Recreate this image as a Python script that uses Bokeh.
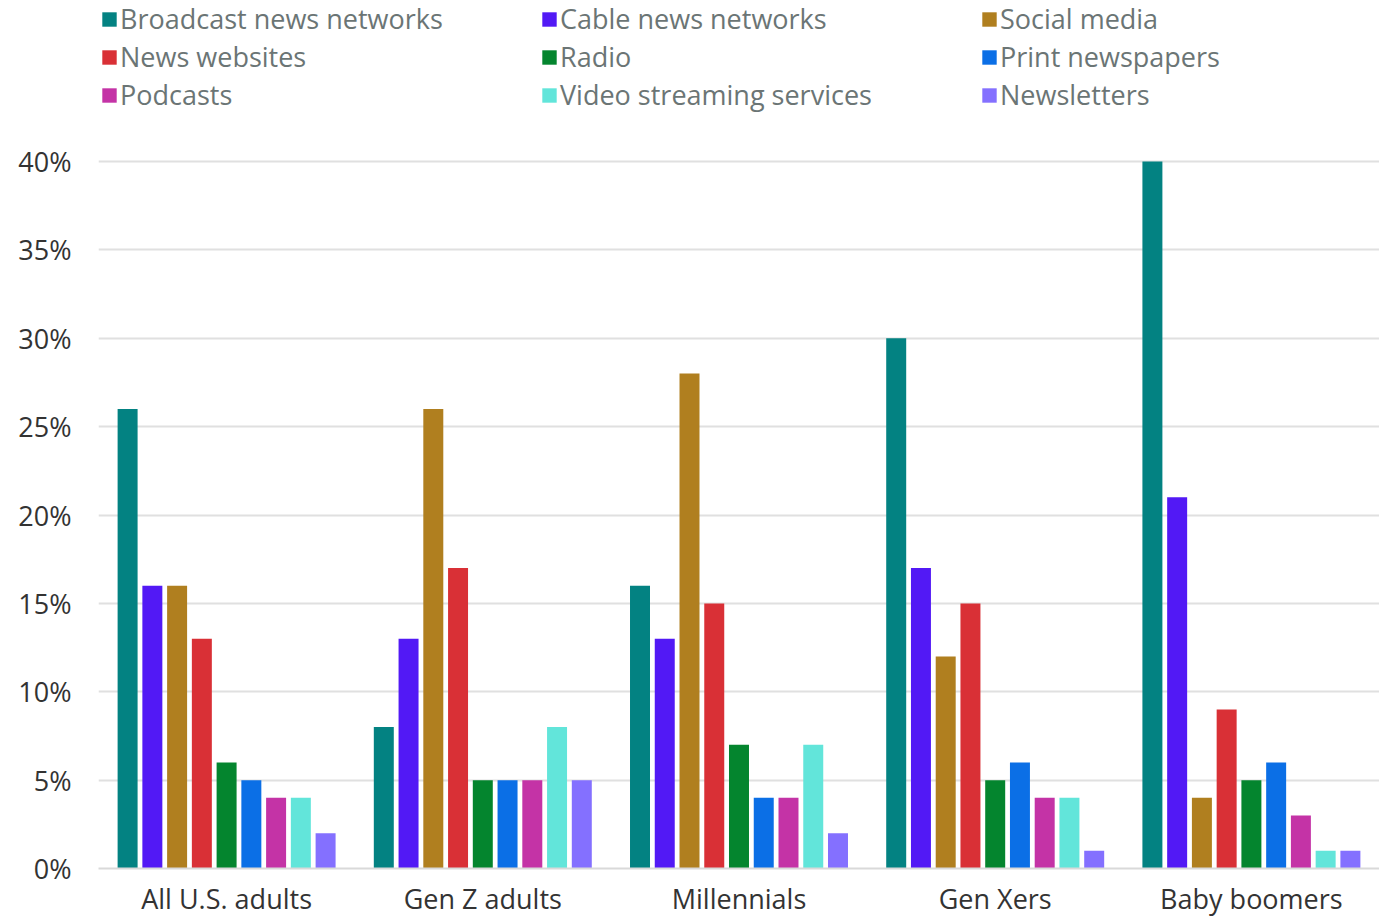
from bokeh.plotting import figure
from bokeh.models import Legend, LegendItem, FixedTicker, ColumnDataSource
from bokeh.transform import dodge
from bokeh.embed import file_html
from bokeh.resources import INLINE

groups = ["All U.S. adults", "Gen Z adults", "Millennials", "Gen Xers", "Baby boomers"]
series = ["Broadcast news networks", "Cable news networks", "Social media",
          "News websites", "Radio", "Print newspapers",
          "Podcasts", "Video streaming services", "Newsletters"]
broadcast = [26, 8, 16, 30, 40]
cable = [16, 13, 13, 17, 21]
social = [16, 26, 28, 12, 4]
websites = [13, 17, 15, 15, 9]
radio = [6, 5, 7, 5, 5]
printp = [5, 5, 4, 6, 6]
podcasts = [4, 5, 4, 4, 3]
video = [4, 8, 7, 4, 1]
newsletters = [2, 5, 2, 1, 1]
values = [broadcast, cable, social, websites, radio, printp, podcasts, video, newsletters]
colors = ["#038282", "#5219f5", "#b07f1f", "#d93036", "#04852e", "#0b6fe6",
          "#c433a6", "#62e5da", "#8470ff"]
y_ticks = [0, 5, 10, 15, 20, 25, 30, 35, 40]

FONT = "Open Sans"
centers = [i + 0.5 for i in range(len(groups))]
data = {"x": centers}
for k, v in enumerate(values):
    data["s%d" % k] = v
src = ColumnDataSource(data)

p = figure(width=1379, height=919, x_range=(0, 5), y_range=(0, 49.11),
           output_backend="svg", toolbar_location=None, tools="")
p.outline_line_color = None
p.min_border_left = 98
p.min_border_right = 0
p.min_border_top = 0
p.min_border_bottom = 0
p.background_fill_color = "white"
p.border_fill_color = "white"

step = 0.0966
renderers = []
for k in range(len(series)):
    r = p.vbar(x=dodge("x", (k - 4) * step, range=p.x_range), top="s%d" % k,
               width=0.078, source=src, fill_color=colors[k], line_color=None)
    renderers.append(r)

p.xgrid.visible = False
p.ygrid.grid_line_color = "#e0e0e0"
p.ygrid.grid_line_width = 2
p.yaxis.ticker = FixedTicker(ticks=y_ticks)
p.yaxis.major_label_overrides = {t: "%d%%" % t for t in y_ticks}
p.yaxis.axis_line_color = None
p.yaxis.major_tick_line_color = None
p.yaxis.minor_tick_line_color = None
p.yaxis.major_label_text_font = FONT
p.yaxis.major_label_text_font_size = "27px"
p.yaxis.major_label_text_color = "#333333"
p.yaxis.major_label_standoff = 21

p.xaxis.ticker = FixedTicker(ticks=centers)
p.xaxis.major_label_overrides = {c: g for c, g in zip(centers, groups)}
p.xaxis.axis_line_color = "#d9d9d9"
p.xaxis.axis_line_width = 2
p.xaxis.major_tick_line_color = None
p.xaxis.minor_tick_line_color = None
p.xaxis.major_label_text_font = FONT
p.xaxis.major_label_text_font_size = "27px"
p.xaxis.major_label_text_color = "#333333"
p.xaxis.major_label_standoff = 5

items = [LegendItem(label=s, renderers=[r]) for s, r in zip(series, renderers)]
legend = Legend(items=items, orientation="horizontal", ncols=3,
                location=(2, 755), padding=0, margin=0, spacing=1,
                glyph_width=18, glyph_height=18, label_standoff=2,
                label_height=30, label_width=419,
                label_text_font=FONT, label_text_font_size="27px",
                label_text_color="#6b7575", border_line_color=None,
                background_fill_alpha=0)
p.add_layout(legend, "center")

open("out.html", "w").write(file_html(p, INLINE))
